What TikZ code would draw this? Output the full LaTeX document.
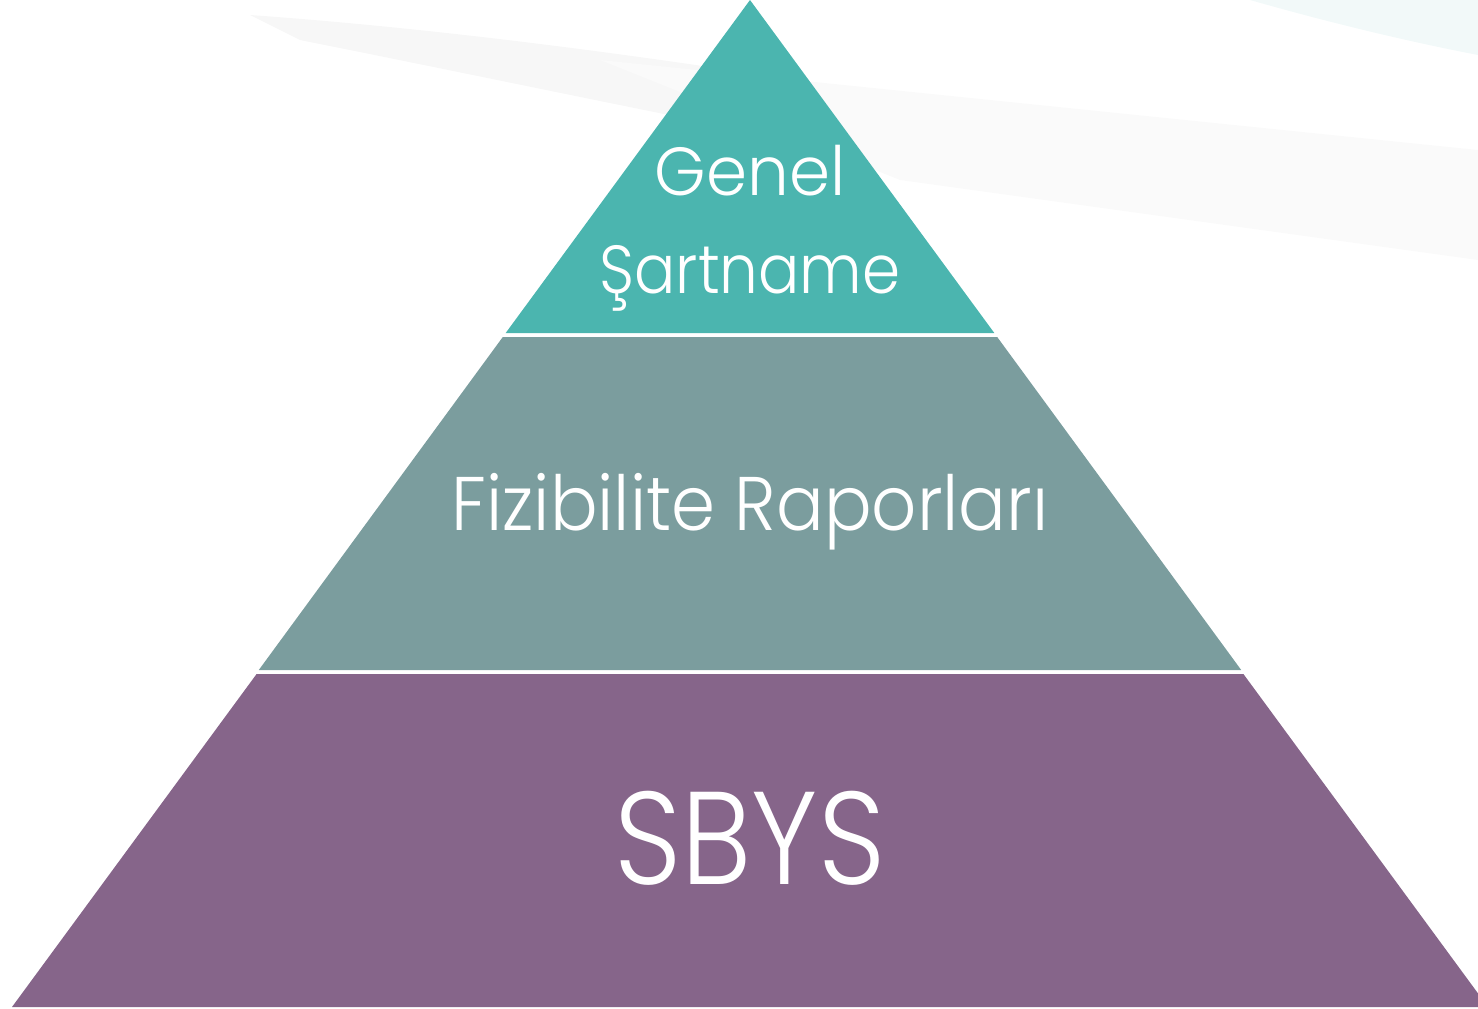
\documentclass[tikz,border=0pt]{standalone}
\usepackage{fontspec}
\setmainfont{Poppins}[UprightFont={* Light}]
\usetikzlibrary{calc,fadings}
\definecolor{topc}{HTML}{4BB5AF}
\definecolor{midc}{HTML}{7B9D9E}
\definecolor{botc}{HTML}{86658A}
\tikzset{
  layer/.style={draw=none},
  lbl/.style={text=white, align=center, inner sep=0pt, anchor=base},
  wash/.style={fill=black!4, path fading=west, draw=none},
}
\begin{document}
\begin{tikzpicture}[x=1pt,y=-1pt]
\useasboundingbox (0,0) rectangle (1478,1009);
\clip (0,0) rectangle (1478,1009);
% faint background wash
\fill[black!3] (250,15) .. controls (600,40) and (1000,110) .. (1478,200) -- (1478,250) .. controls (1100,210) and (700,120) .. (300,40) -- cycle;
\fill[black!2] (600,60) -- (1478,150) -- (1478,260) -- (900,180) -- cycle;
\fill[teal!5] (1250,0) -- (1478,0) -- (1478,55) .. controls (1400,40) and (1320,20) .. (1250,0) -- cycle;
% layers
\fill[topc, layer] (750,0) -- (994.3,333) -- (505.7,333) -- cycle;
\fill[midc, layer] (502.8,337) -- (997.2,337) -- (1241.2,670) -- (258.8,670) -- cycle;
\fill[botc, layer] (256.6,674) -- (1243.4,674) -- (1488,1007) -- (12,1007) -- cycle;
% labels
\node[lbl, font=\fontsize{68}{70}\selectfont] (t1) at (750,195) {\scalebox{0.97}[1]{Genel}};
\node[lbl, font=\fontsize{68}{70}\selectfont] (t2) at (750,293) {\scalebox{0.9}[1]{Şartname}};
\node[lbl, font=\fontsize{76}{80}\selectfont] (t3) at (750,530) {\scalebox{0.93}[1]{Fizibilite Raporları}};
\node[lbl, font=\fontsize{132}{140}\selectfont] (t4) at (750,884) {\scalebox{0.89}[1]{SBYS}};
\end{tikzpicture}
\end{document}
